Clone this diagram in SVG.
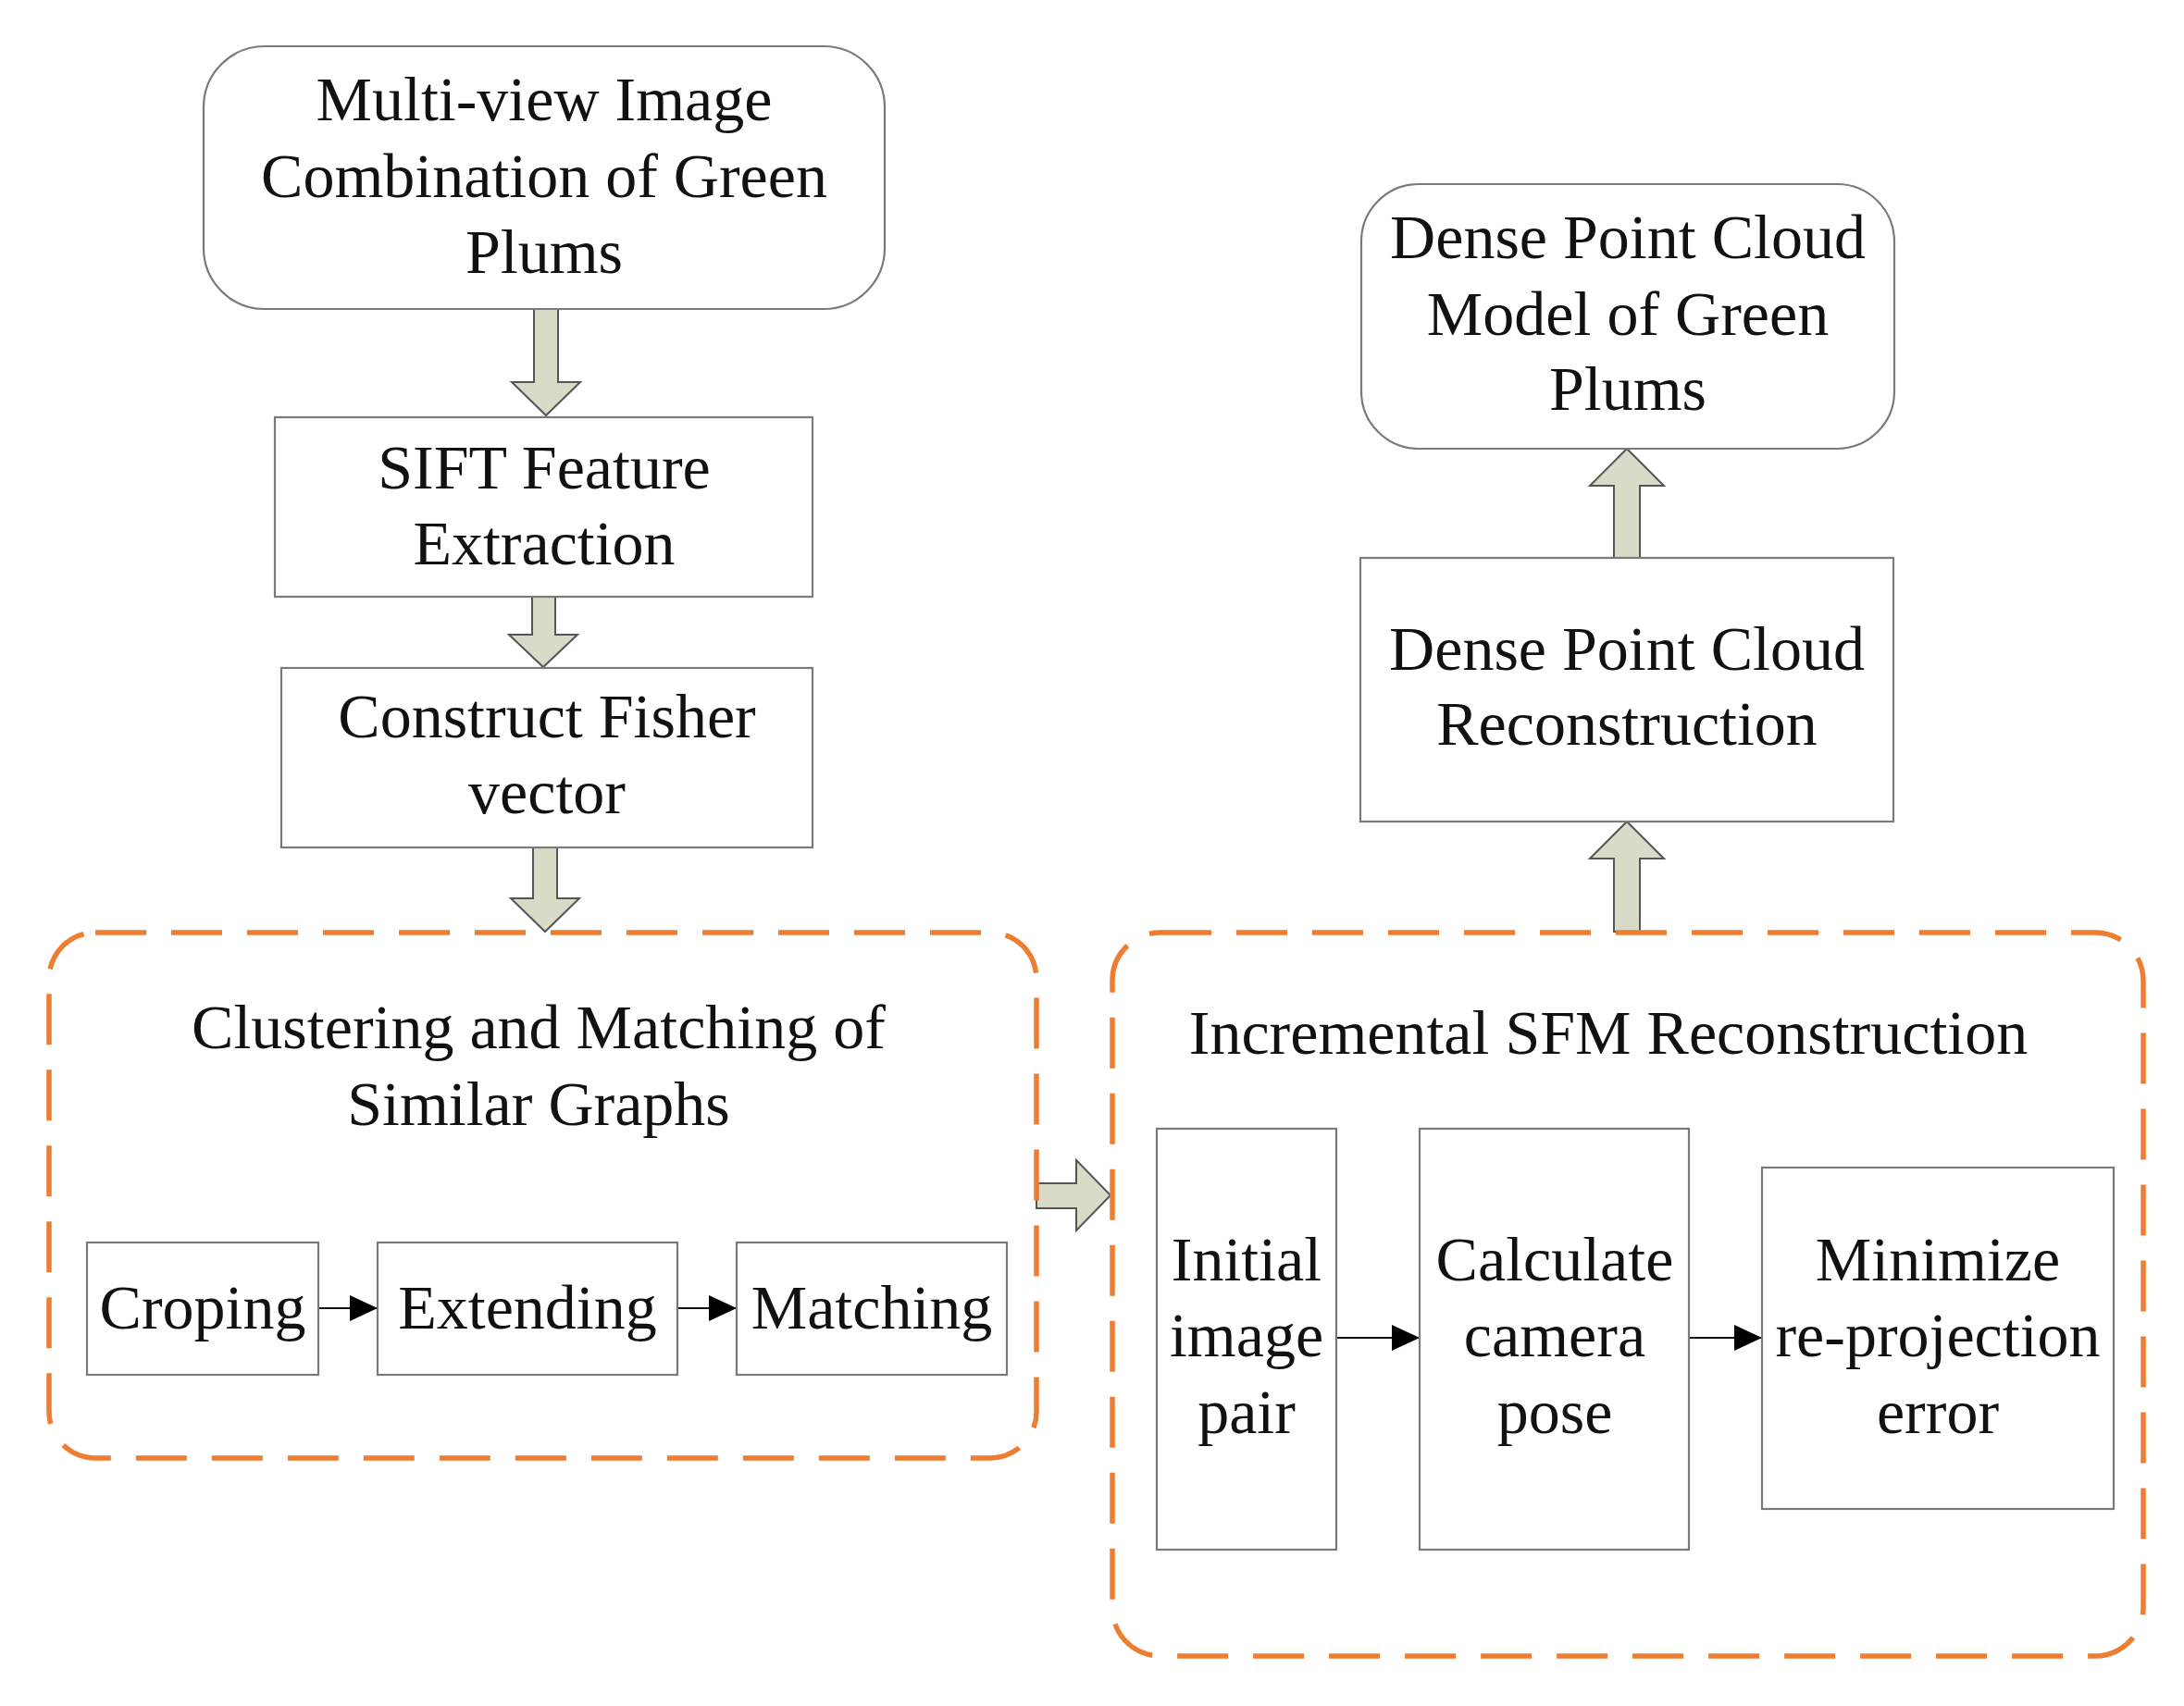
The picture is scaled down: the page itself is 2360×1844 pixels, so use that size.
<svg xmlns="http://www.w3.org/2000/svg" width="2360" height="1844" viewBox="0 0 2360 1844">
<defs>
<style>
.t{font-family:"Liberation Serif","Times New Roman",serif;font-size:68px;fill:#111;text-anchor:middle}
.box{fill:#fff;stroke:#7a7a7a;stroke-width:2.2}
.blk{fill:#d8dbc8;stroke:#555;stroke-width:2;stroke-linejoin:miter}
.grp{fill:none;stroke:#ED7D31;stroke-width:5.5;stroke-dasharray:55 27}
.ln{stroke:#111;stroke-width:2;fill:none}
</style>
<marker id="ah" viewBox="0 0 30 28" refX="30" refY="14" markerWidth="30" markerHeight="28" markerUnits="userSpaceOnUse" orient="auto">
<path d="M0,0 L30,14 L0,28 Z" fill="#000"/>
</marker>
</defs>
<rect width="2360" height="1844" fill="#fff"/>

<g id="connectors">
<polygon class="blk" points="577,334 603,334 603,413 627,413 590,449 553,413 577,413"/>
<polygon class="blk" points="575,645 600,645 600,686 624,686 587,721 550,686 575,686"/>
<polygon class="blk" points="576,916 602,916 602,971 626,971 589,1007 552,971 576,971"/>
<polygon class="blk" points="1744,603 1772,603 1772,525 1798,525 1758,485 1718,525 1744,525"/>
<polygon class="blk" points="1744,1007 1772,1007 1772,928 1798,928 1758,888 1718,928 1744,928"/>
<polygon class="blk" points="1120,1279 1163,1279 1163,1254 1200,1292 1163,1330 1163,1306 1120,1306"/>
<line class="ln" x1="344" y1="1414" x2="408" y2="1414" marker-end="url(#ah)"/>
<line class="ln" x1="732" y1="1414" x2="796" y2="1414" marker-end="url(#ah)"/>
<line class="ln" x1="1444" y1="1446" x2="1534" y2="1446" marker-end="url(#ah)"/>
<line class="ln" x1="1825" y1="1446" x2="1904" y2="1446" marker-end="url(#ah)"/>
</g>

<g id="group-clustering">
<rect class="grp" x="53" y="1008" width="1067" height="568" rx="50" ry="50"/>
<text class="t" x="582" y="1133">Clustering and Matching of</text>
<text class="t" x="582" y="1216">Similar Graphs</text>
</g>

<g id="group-sfm">
<rect class="grp" x="1202" y="1008" width="1114" height="782" rx="52" ry="52"/>
<text class="t" x="1738" y="1139">Incremental SFM Reconstruction</text>
</g>

<g id="node-multiview">
<rect class="box" x="220" y="50" width="736" height="284" rx="66" ry="66"/>
<text class="t" x="588" y="130">Multi-view Image</text>
<text class="t" x="588" y="213">Combination of Green</text>
<text class="t" x="588" y="295">Plums</text>
</g>

<g id="node-sift">
<rect class="box" x="297" y="451" width="581" height="194"/>
<text class="t" x="588" y="528">SIFT Feature</text>
<text class="t" x="588" y="610">Extraction</text>
</g>

<g id="node-fisher">
<rect class="box" x="304" y="722" width="574" height="194"/>
<text class="t" x="591" y="797">Construct Fisher</text>
<text class="t" x="591" y="879">vector</text>
</g>

<g id="node-croping">
<rect class="box" x="94" y="1343" width="250" height="143"/>
<text class="t" x="219" y="1436">Croping</text>
</g>

<g id="node-extending">
<rect class="box" x="408" y="1343" width="324" height="143"/>
<text class="t" x="570" y="1436">Extending</text>
</g>

<g id="node-matching">
<rect class="box" x="796" y="1343" width="292" height="143"/>
<text class="t" x="942" y="1436">Matching</text>
</g>

<g id="node-initial">
<rect class="box" x="1250" y="1220" width="194" height="455"/>
<text class="t" x="1347" y="1384">Initial</text>
<text class="t" x="1347" y="1466">image</text>
<text class="t" x="1347" y="1549">pair</text>
</g>

<g id="node-calculate">
<rect class="box" x="1534" y="1220" width="291" height="455"/>
<text class="t" x="1680" y="1384">Calculate</text>
<text class="t" x="1680" y="1466">camera</text>
<text class="t" x="1680" y="1549">pose</text>
</g>

<g id="node-minimize">
<rect class="box" x="1904" y="1262" width="380" height="369"/>
<text class="t" x="2094" y="1384">Minimize</text>
<text class="t" x="2094" y="1466">re-projection</text>
<text class="t" x="2094" y="1549">error</text>
</g>

<g id="node-dense-recon">
<rect class="box" x="1470" y="603" width="576" height="285"/>
<text class="t" x="1758" y="724">Dense Point Cloud</text>
<text class="t" x="1758" y="805">Reconstruction</text>
</g>

<g id="node-dense-model">
<rect class="box" x="1471" y="199" width="576" height="286" rx="62" ry="62"/>
<text class="t" x="1759" y="279">Dense Point Cloud</text>
<text class="t" x="1759" y="362">Model of Green</text>
<text class="t" x="1759" y="443">Plums</text>
</g>
</svg>
